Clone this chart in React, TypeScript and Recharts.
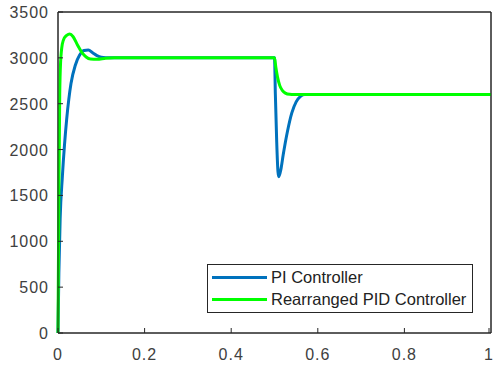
import { LineChart, Line, XAxis, YAxis, Legend, ReferenceArea } from 'recharts';

// time (s) and speed values
const PI_T = [0, 0.002, 0.005, 0.01, 0.015, 0.02, 0.025, 0.03, 0.04, 0.05, 0.06, 0.07, 0.08, 0.09, 0.1, 0.12, 0.3, 0.5, 0.502, 0.505, 0.508, 0.51, 0.515, 0.52, 0.53, 0.54, 0.55, 0.56, 0.57, 0.6, 1];
const PI_V = [0, 650, 1250, 1700, 2050, 2330, 2550, 2720, 2920, 3030, 3080, 3085, 3055, 3025, 3008, 3000, 3000, 3000, 2600, 2100, 1760, 1705, 1790, 1940, 2200, 2400, 2520, 2580, 2600, 2600, 2600];

const PID_T = [0, 0.002, 0.004, 0.006, 0.01, 0.015, 0.02, 0.027, 0.035, 0.045, 0.055, 0.065, 0.075, 0.09, 0.11, 0.13, 0.3, 0.5, 0.503, 0.507, 0.512, 0.518, 0.525, 0.535, 0.545, 0.6, 1];
const PID_V = [0, 1500, 2600, 2950, 3150, 3220, 3245, 3260, 3230, 3140, 3060, 3010, 2988, 2985, 2995, 3000, 3000, 3000, 2900, 2790, 2700, 2645, 2615, 2602, 2600, 2600, 2600];

const X_TICKS = [0, 0.2, 0.4, 0.6, 0.8, 1];
const Y_TICKS = [0, 500, 1000, 1500, 2000, 2500, 3000, 3500];

const piData = PI_T.map((t, i) => ({ t, v: PI_V[i] }));
const pidData = PID_T.map((t, i) => ({ t, v: PID_V[i] }));

const AXIS = '#262626';
const TEXT = '#404040';
const FONT = 'Liberation Sans, Arial, sans-serif';

const fmtX = (v: number) => (v === 0 || v === 1 ? String(v) : v.toFixed(1));

function BottomTick({ x, y, payload }: any) {
  return (
    <g>
      <line x1={x} x2={x} y1={y} y2={y - 5} stroke={AXIS} />
      <text x={x} y={y + 27} textAnchor="middle" fill={TEXT} fontSize={16} fontFamily={FONT} letterSpacing={1}>
        {fmtX(payload.value)}
      </text>
    </g>
  );
}

function TopTick({ x, y }: any) {
  return <line x1={x} x2={x} y1={y} y2={y + 5} stroke={AXIS} />;
}

function LeftTick({ x, y, payload }: any) {
  return (
    <g>
      <line x1={x} x2={x + 5} y1={y} y2={y} stroke={AXIS} />
      <text x={x - 9} y={y + 6} textAnchor="end" fill={TEXT} fontSize={16} fontFamily={FONT} letterSpacing={1}>
        {payload.value}
      </text>
    </g>
  );
}

function RightTick({ x, y }: any) {
  return <line x1={x} x2={x - 5} y1={y} y2={y} stroke={AXIS} />;
}

function LegendBox({ payload }: any) {
  return (
    <div
      style={{
        width: 264,
        height: 46,
        border: `1px solid ${AXIS}`,
        background: '#fff',
        fontFamily: FONT,
        fontSize: 16.5,
        color: '#222',
        boxSizing: 'content-box',
        paddingTop: 1,
      }}
    >
      {(payload || []).map((p: any) => (
        <div key={p.value} style={{ display: 'flex', alignItems: 'center', height: 22 }}>
          <div style={{ width: 55, height: 3, background: p.color, marginLeft: 4, marginRight: 4 }} />
          <span>{p.value}</span>
        </div>
      ))}
    </div>
  );
}

export default function App() {
  return (
    <div style={{ position: 'absolute', left: 0, top: 0, background: '#fff' }}>
      <LineChart width={493} height={365} margin={{ top: 11, right: 1, bottom: 0, left: 0 }}>
        <XAxis
          xAxisId="b"
          dataKey="t"
          type="number"
          domain={[0, 1]}
          ticks={X_TICKS}
          allowDuplicatedCategory={false}
          height={32}
          stroke={AXIS}
          tickLine={false}
          tickSize={0}
          tickMargin={0}
          tick={<BottomTick />}
        />
        <XAxis
          xAxisId="t"
          orientation="top"
          dataKey="t"
          type="number"
          domain={[0, 1]}
          ticks={X_TICKS}
          allowDuplicatedCategory={false}
          height={1}
          stroke={AXIS}
          tickLine={false}
          tickSize={0}
          tickMargin={0}
          tick={<TopTick />}
        />
        <YAxis
          yAxisId="l"
          type="number"
          domain={[0, 3500]}
          ticks={Y_TICKS}
          width={58}
          stroke={AXIS}
          tickLine={false}
          tickSize={0}
          tickMargin={0}
          tick={<LeftTick />}
        />
        <YAxis
          yAxisId="r"
          orientation="right"
          type="number"
          domain={[0, 3500]}
          ticks={Y_TICKS}
          width={1}
          stroke={AXIS}
          tickLine={false}
          tickSize={0}
          tickMargin={0}
          tick={<RightTick />}
        />
        <ReferenceArea
          xAxisId="b"
          yAxisId="l"
          x1={0}
          x2={1}
          y1={0}
          y2={3500}
          fill="none"
          stroke={AXIS}
          strokeWidth={1}
          ifOverflow="visible"
        />
        <Line
          xAxisId="b"
          yAxisId="l"
          data={piData}
          dataKey="v"
          name="PI Controller"
          type="monotone"
          stroke="#0072BD"
          strokeWidth={3}
          dot={false}
          isAnimationActive={false}
        />
        <Line
          xAxisId="b"
          yAxisId="l"
          data={pidData}
          dataKey="v"
          name="Rearranged PID Controller"
          type="monotone"
          stroke="#00FF00"
          strokeWidth={3}
          dot={false}
          isAnimationActive={false}
        />
        <Legend
          layout="vertical"
          align="center"
          verticalAlign="middle"
          wrapperStyle={{ left: 207, top: 264, width: 266 }}
          content={<LegendBox />}
        />
      </LineChart>
    </div>
  );
}
